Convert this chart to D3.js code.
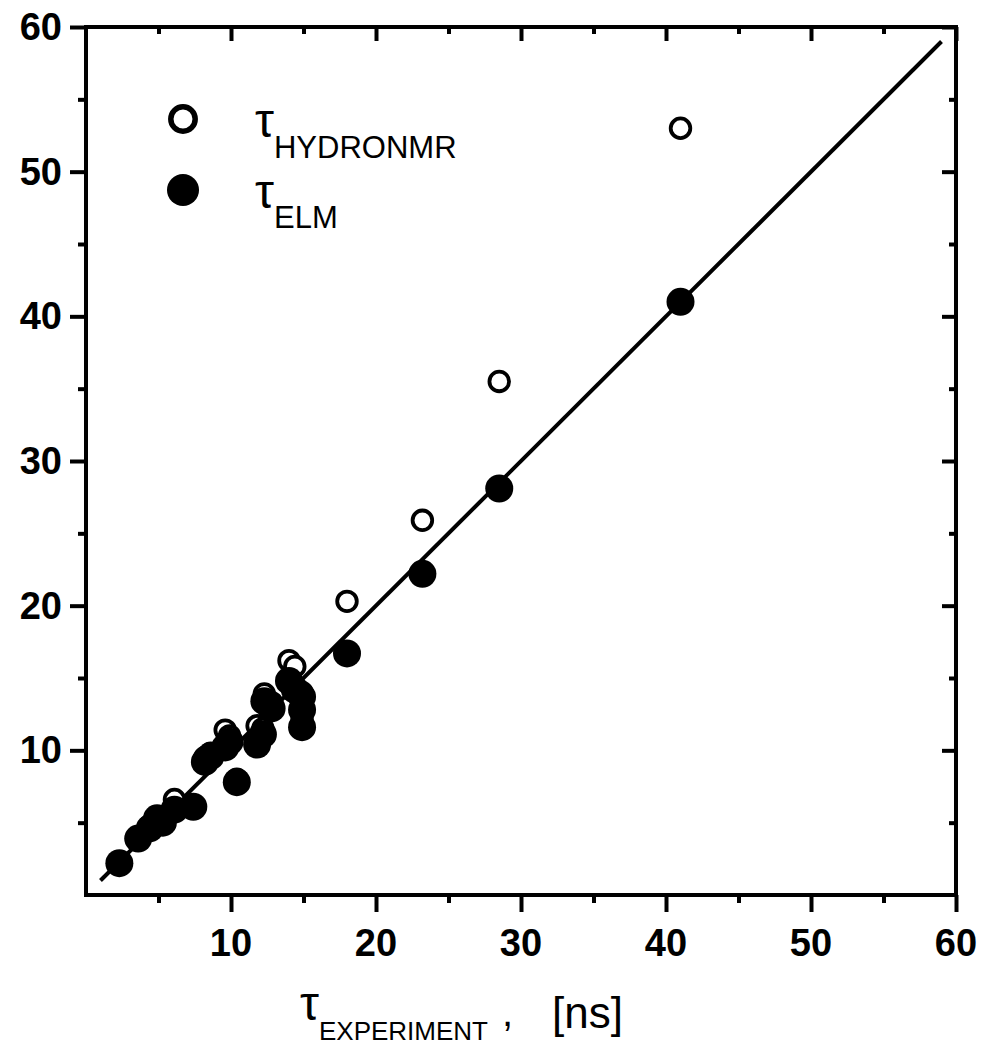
<!DOCTYPE html>
<html>
<head>
<meta charset="utf-8">
<script src="https://cdn.jsdelivr.net/npm/d3@7"></script>
<style>
  body { margin: 0; background: #fff; }
  svg { display: block; font-family: "Liberation Sans", Arial, sans-serif; }
</style>
</head>
<body>
<svg id="chart" width="981" height="1047"></svg>
<script>
// Experimental correlation times vs. computed ones (HYDRONMR, ELM).
var experiment = [2.3, 3.6, 4.4, 4.9, 5.3, 6.1, 7.4, 8.2, 8.6, 9.6, 9.9, 10.4, 11.8, 12.2, 12.3, 12.8, 14.0, 14.4, 14.9, 14.9, 14.9, 18.0, 23.2, 28.5, 41.0];
var elm        = [2.2, 3.9, 4.6, 5.3, 5.0, 5.9, 6.1, 9.2, 9.6, 10.2, 10.6, 7.8, 10.4, 11.1, 13.4, 12.9, 14.8, 14.2, 13.7, 12.8, 11.6, 16.7, 22.2, 28.1, 41.0];
var hydronmr   = [2.3, 4.0, 4.8, 5.4, 5.3, 6.6, 6.0, 9.5, 9.8, 11.4, 11.0, 8.0, 11.7, 11.5, 13.9, 13.3, 16.2, 15.8, 14.0, 13.2, 12.2, 20.3, 25.9, 35.5, 53.0];
var fitLine    = [[1, 1], [59, 59]];
var majorTicks = [10, 20, 30, 40, 50, 60];
var minorTicks = [5, 15, 25, 35, 45, 55];

var svg = d3.select("#chart");
var m = { left: 86, right: 956, top: 27, bottom: 895 };

var x = d3.scaleLinear().domain([0, 60]).range([m.left, m.right]);
var y = d3.scaleLinear().domain([0, 60]).range([m.bottom, m.top]);

// frame
svg.append("rect")
  .attr("x", m.left).attr("y", m.top)
  .attr("width", m.right - m.left).attr("height", m.bottom - m.top)
  .attr("fill", "none").attr("stroke", "#000").attr("stroke-width", 4);

function ticks(axis, vals, size) {
  svg.append("g").attr("transform", axis.t).call(axis.gen.tickValues(vals).tickSize(size).tickFormat(""))
    .call(function (g) { g.select(".domain").remove(); })
    .selectAll("line").attr("stroke", "#000").attr("stroke-width", 4);
}

// outward ticks on left/bottom, inward on top/right
var bottomAx = { t: "translate(0," + m.bottom + ")", gen: d3.axisBottom(x) };
var leftAx = { t: "translate(" + m.left + ",0)", gen: d3.axisLeft(y) };
var topAx = { t: "translate(0," + m.top + ")", gen: d3.axisBottom(x) };
var rightAx = { t: "translate(" + m.right + ",0)", gen: d3.axisLeft(y) };
ticks(bottomAx, majorTicks, 17); ticks(bottomAx, minorTicks, 8);
ticks(leftAx, majorTicks, 16); ticks(leftAx, minorTicks, 8);
ticks(topAx, majorTicks, 14); ticks(topAx, minorTicks, 7);
ticks(rightAx, majorTicks, 14); ticks(rightAx, minorTicks, 7);

// tick labels
svg.append("g").selectAll("text").data(majorTicks).join("text")
  .attr("x", function (d) { return x(d); }).attr("y", 956)
  .attr("text-anchor", "middle").attr("font-weight", "bold").attr("font-size", 38)
  .text(function (d) { return d; });
svg.append("g").selectAll("text").data(majorTicks).join("text")
  .attr("x", 62).attr("y", function (d) { return y(d) + 13; })
  .attr("text-anchor", "end").attr("font-weight", "bold").attr("font-size", 38)
  .text(function (d) { return d; });

// y = x reference line
svg.append("path")
  .attr("d", d3.line().x(function (d) { return x(d[0]); }).y(function (d) { return y(d[1]); })(fitLine))
  .attr("stroke", "#000").attr("stroke-width", 4).attr("fill", "none");

// open circles under filled ones
svg.append("g").selectAll("circle").data(experiment).join("circle")
  .attr("cx", function (d) { return x(d); })
  .attr("cy", function (d, i) { return y(hydronmr[i]); })
  .attr("r", 9.8).attr("fill", "#fff").attr("stroke", "#000").attr("stroke-width", 3.8);
svg.append("g").selectAll("circle").data(experiment).join("circle")
  .attr("cx", function (d) { return x(d); })
  .attr("cy", function (d, i) { return y(elm[i]); })
  .attr("r", 14).attr("fill", "#000");

// legend
svg.append("circle").attr("cx", 183).attr("cy", 119).attr("r", 12.2)
  .attr("fill", "#fff").attr("stroke", "#000").attr("stroke-width", 5.5);
svg.append("circle").attr("cx", 183).attr("cy", 190).attr("r", 16).attr("fill", "#000");

function tauLabel(xp, yp, sub, big, small, dy) {
  var t = svg.append("text").attr("x", xp).attr("y", yp).attr("font-size", big);
  t.append("tspan").text("τ");
  t.append("tspan").attr("font-size", small).attr("dy", dy).text(sub);
  return t;
}
tauLabel(255, 137, "HYDRONMR", 48, 31, 21);
tauLabel(255, 208, "ELM", 48, 31, 20);

// x axis title
var xt = tauLabel(300, 1020, "EXPERIMENT", 48, 26, 20);
xt.append("tspan").attr("font-size", 40).attr("dy", -14).attr("dx", 14).text(",");
svg.append("text").attr("x", 552).attr("y", 1028).attr("font-size", 44).text("[ns]");
</script>
</body>
</html>
